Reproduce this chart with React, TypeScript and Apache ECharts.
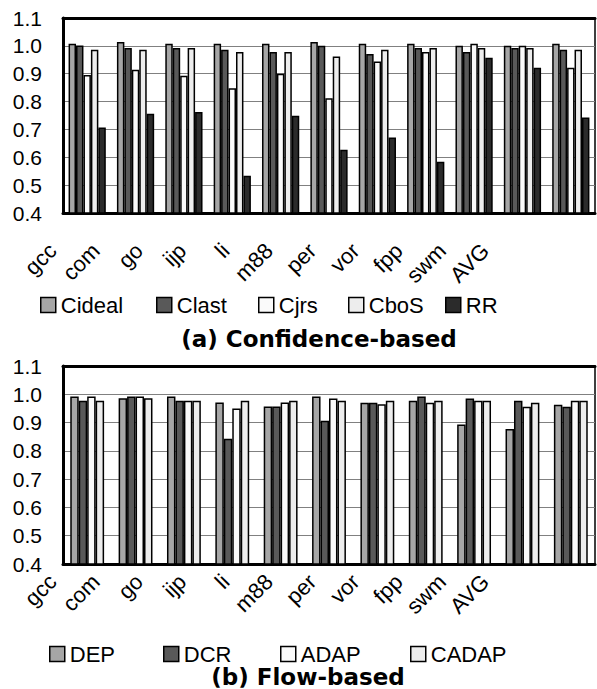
import React, { useEffect, useRef } from "react";
import * as echarts from "echarts";

const categories = ["gcc", "com", "go", "ijp", "li", "m88", "per", "vor", "fpp", "swm", "AVG"];

// (a) Confidence-based
const cideal = [1.008, 1.014, 1.008, 1.008, 1.008, 1.014, 1.008, 1.008, 1.0, 1.0, 1.008];
const clast = [1.001, 0.992, 0.992, 0.986, 0.978, 1.0, 0.971, 0.992, 0.978, 0.992, 0.986];
const cjrs = [0.895, 0.914, 0.893, 0.848, 0.9, 0.812, 0.944, 0.978, 1.008, 1.0, 0.921];
const cbos = [0.986, 0.986, 0.992, 0.978, 0.978, 0.962, 0.986, 0.992, 0.992, 0.992, 0.986];
const rr = [0.707, 0.756, 0.763, 0.534, 0.749, 0.627, 0.671, 0.584, 0.957, 0.921, 0.743];

// (b) Flow-based
const dep = [0.992, 0.986, 0.992, 0.971, 0.957, 0.992, 0.97, 0.977, 0.893, 0.877, 0.963];
const dcr = [0.977, 0.992, 0.977, 0.843, 0.957, 0.906, 0.97, 0.992, 0.985, 0.977, 0.956];
const adap = [0.992, 0.992, 0.977, 0.95, 0.971, 0.985, 0.965, 0.97, 0.977, 0.956, 0.977];
const cadap = [0.977, 0.986, 0.977, 0.977, 0.977, 0.977, 0.977, 0.977, 0.977, 0.97, 0.977];

const captionA = "(a) Confidence-based";
const captionB = "(b) Flow-based";

const FONT = "Liberation Sans, Arial, sans-serif";

export default function App() {
  const ref = useRef<HTMLDivElement>(null);
  useEffect(() => {
    document.body.style.margin = "0";
    const chart = echarts.init(ref.current!, undefined, { renderer: "svg" });

    const yAxisCommon = (gridIndex: number) => ({
      type: "value",
      gridIndex,
      min: 0.4,
      max: 1.1,
      interval: 0.1,
      axisLine: { show: true, lineStyle: { color: "#000", width: 3 } },
      axisTick: { show: false },
      axisLabel: {
        color: "#000",
        fontSize: 21,
        fontFamily: FONT,
        margin: 21,
        formatter: (v: number) => v.toFixed(1),
      },
      splitLine: { show: true, lineStyle: { color: "#808080", width: 1.2 } },
    });

    const barSeries = (
      name: string,
      data: number[],
      color: string,
      idx: number,
      gap: string
    ) => ({
      name,
      type: "bar",
      xAxisIndex: idx,
      yAxisIndex: idx,
      data,
      barGap: "0%",
      barCategoryGap: gap,
      itemStyle: { color, borderColor: "#000", borderWidth: 1.5 },
      clip: true,
    });

    const legendItem = (name: string, left: number, top: number) => ({
      data: [name],
      left,
      top,
      padding: 0,
      itemWidth: 15,
      itemHeight: 15,
      icon: "rect",
      itemStyle: { borderColor: "#000", borderWidth: 1.5 },
      textStyle: { fontSize: 22, fontFamily: FONT, color: "#000" },
      selectedMode: false,
    });

    const labelAxis = (gridIndex: number, margin: number) => ({
      type: "category",
      gridIndex,
      data: categories,
      axisLine: { show: false, onZero: false },
      axisTick: { show: false },
      splitLine: { show: false },
      axisLabel: {
        interval: 0,
        rotate: 45,
        margin,
        fontSize: 22,
        fontFamily: FONT,
        color: "#000",
      },
    });

    const topLineAxis = (gridIndex: number) => ({
      type: "category",
      gridIndex,
      position: "top",
      data: categories,
      axisLine: { show: true, lineStyle: { color: "#000", width: 3 } },
      axisTick: { show: false },
      axisLabel: { show: false },
    });

    const gridBase = { outerBoundsMode: "none", containLabel: false };

    const option = {
      animation: false,
      backgroundColor: "#fff",
      grid: [
        { ...gridBase, left: 63, top: 18, width: 532, height: 195, show: true, borderColor: "#000", borderWidth: 1.5 },
        { ...gridBase, left: 63, top: 366, width: 532, height: 198, show: true, borderColor: "#000", borderWidth: 1.5 },
        { ...gridBase, left: 31, top: 18, width: 476, height: 195 },
        { ...gridBase, left: 31, top: 366, width: 476, height: 198 },
      ],
      xAxis: [
        {
          type: "category",
          gridIndex: 0,
          data: categories,
          axisLine: { show: true, lineStyle: { color: "#000", width: 3 } },
          axisTick: { show: false },
          axisLabel: { show: false },
        },
        {
          type: "category",
          gridIndex: 1,
          data: categories,
          axisLine: { show: true, lineStyle: { color: "#000", width: 3 } },
          axisTick: { show: false },
          axisLabel: { show: false },
        },
        labelAxis(2, 34),
        labelAxis(3, 14),
        topLineAxis(0),
        topLineAxis(1),
      ],
      yAxis: [
        yAxisCommon(0),
        yAxisCommon(1),
        { type: "value", gridIndex: 2, show: false, min: 0, max: 1 },
        { type: "value", gridIndex: 3, show: false, min: 0, max: 1 },
      ],
      legend: [
        legendItem("Cideal", 40, 294),
        legendItem("Clast", 156, 294),
        legendItem("Cjrs", 258, 294),
        legendItem("CboS", 348, 294),
        legendItem("RR", 445, 294),
        legendItem("DEP", 49, 643),
        legendItem("DCR", 163, 643),
        legendItem("ADAP", 280, 643),
        legendItem("CADAP", 410, 643),
      ],
      graphic: [
        {
          type: "text",
          x: 319,
          y: 339,
          style: {
            text: captionA,
            fill: "#000",
            font: "bold 23px 'DejaVu Sans', sans-serif",
            textAlign: "center",
            textVerticalAlign: "middle",
          },
        },
        {
          type: "text",
          x: 308,
          y: 677,
          style: {
            text: captionB,
            fill: "#000",
            font: "bold 23px 'DejaVu Sans', sans-serif",
            textAlign: "center",
            textVerticalAlign: "middle",
          },
        },
      ],
      series: [
        barSeries("Cideal", cideal, "#a6a6a6", 0, "23%"),
        barSeries("Clast", clast, "#595959", 0, "23%"),
        barSeries("Cjrs", cjrs, "#fafafa", 0, "23%"),
        barSeries("CboS", cbos, "#ededed", 0, "23%"),
        barSeries("RR", rr, "#2b2b2b", 0, "23%"),
        barSeries("DEP", dep, "#a6a6a6", 1, "30%"),
        barSeries("DCR", dcr, "#595959", 1, "30%"),
        barSeries("ADAP", adap, "#fafafa", 1, "30%"),
        barSeries("CADAP", cadap, "#ededed", 1, "30%"),
      ],
    };

    chart.setOption(option as any);
    return () => chart.dispose();
  }, []);

  return <div ref={ref} style={{ width: 597, height: 689 }} />;
}
